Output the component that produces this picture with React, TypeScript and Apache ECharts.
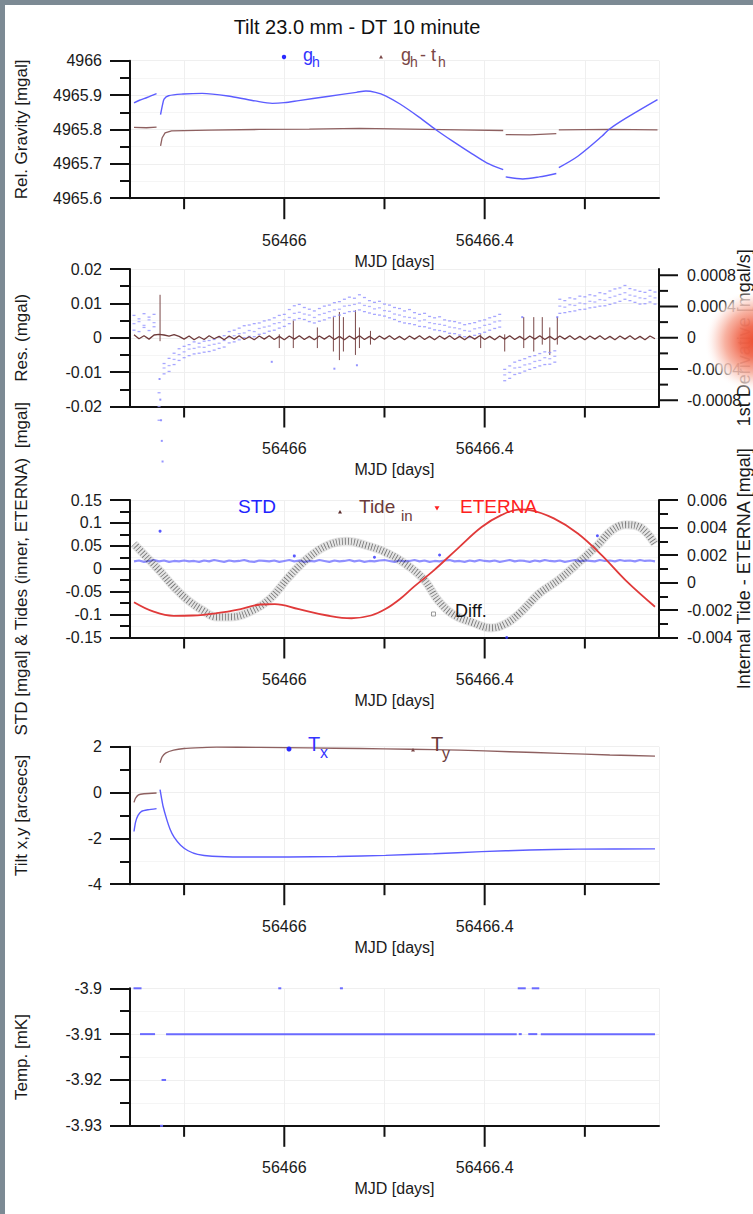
import React, { useEffect, useRef } from 'react';
import * as echarts from 'echarts';

const FONT = '"Liberation Sans", Arial, Helvetica, sans-serif';

// ---- axes / layout ----
const XMIN = 56465.692;
const XMAX = 56466.748;
const xTickValues = [56465.8, 56466.0, 56466.2, 56466.4, 56466.6];
const xTickMajor = [0, 1, 0, 1, 0];
const xLabelValues = [56466, 56466.4];
const panelTops = [60.7, 269, 500, 746.7, 988.3];
const PANEL_H = 137.5;
const rightTicksP2 = [-0.0008, -0.0006, -0.0004, -0.0002, 0, 0.0002, 0.0004, 0.0006, 0.0008];
const rightMajorP2 = [1, 0, 1, 0, 1, 0, 1, 0, 1];
const rightLabelsP2 = [-0.0008, -0.0004, 0, 0.0004, 0.0008];

// ---- panel 1: relative gravity ----
const gravity = [
  [56465.700, 4965.877], [56465.711, 4965.885], [56465.726, 4965.893], [56465.745, 4965.904], [56465.749, null],
  [56465.753, 4965.843], [56465.757, 4965.872], [56465.760, 4965.888], [56465.769, 4965.898], [56465.798, 4965.903],
  [56465.836, 4965.905], [56465.894, 4965.896], [56465.942, 4965.883], [56465.976, 4965.876], [56466.000, 4965.878],
  [56466.029, 4965.884], [56466.086, 4965.896], [56466.144, 4965.908], [56466.163, 4965.912], [56466.182, 4965.908],
  [56466.202, 4965.898], [56466.231, 4965.874], [56466.269, 4965.836], [56466.302, 4965.800], [56466.336, 4965.766],
  [56466.375, 4965.729], [56466.404, 4965.703], [56466.437, 4965.683], [56466.440, null],
  [56466.442, 4965.662], [56466.476, 4965.656], [56466.509, 4965.662], [56466.543, 4965.672], [56466.546, null],
  [56466.548, 4965.689], [56466.586, 4965.722], [56466.634, 4965.780], [56466.648, 4965.800], [56466.682, 4965.833],
  [56466.745, 4965.887],
];
const gravityMinusTide = [
  [56465.700, 4965.806], [56465.725, 4965.805], [56465.745, 4965.807], [56465.749, null],
  [56465.753, 4965.752], [56465.756, 4965.775], [56465.762, 4965.790], [56465.775, 4965.796], [56465.85, 4965.798],
  [56465.95, 4965.800], [56466.05, 4965.801], [56466.15, 4965.803], [56466.25, 4965.801], [56466.35, 4965.799],
  [56466.437, 4965.797], [56466.440, null], [56466.442, 4965.785], [56466.49, 4965.784], [56466.543, 4965.788],
  [56466.546, null], [56466.548, 4965.799], [56466.65, 4965.800], [56466.745, 4965.799],
];

// ---- sample times shared by dense series ----
const sampleTimes = [
  56465.70, 56465.71, 56465.72, 56465.73, 56465.74, 56465.75, 56465.76, 56465.77, 56465.78, 56465.79,
  56465.80, 56465.81, 56465.82, 56465.83, 56465.84, 56465.85, 56465.86, 56465.87, 56465.88, 56465.89,
  56465.90, 56465.91, 56465.92, 56465.93, 56465.94, 56465.95, 56465.96, 56465.97, 56465.98, 56465.99,
  56466.00, 56466.01, 56466.02, 56466.03, 56466.04, 56466.05, 56466.06, 56466.07, 56466.08, 56466.09,
  56466.10, 56466.11, 56466.12, 56466.13, 56466.14, 56466.15, 56466.16, 56466.17, 56466.18, 56466.19,
  56466.20, 56466.21, 56466.22, 56466.23, 56466.24, 56466.25, 56466.26, 56466.27, 56466.28, 56466.29,
  56466.30, 56466.31, 56466.32, 56466.33, 56466.34, 56466.35, 56466.36, 56466.37, 56466.38, 56466.39,
  56466.40, 56466.41, 56466.42, 56466.43, 56466.44, 56466.45, 56466.46, 56466.47, 56466.48, 56466.49,
  56466.50, 56466.51, 56466.52, 56466.53, 56466.54, 56466.55, 56466.56, 56466.57, 56466.58, 56466.59,
  56466.60, 56466.61, 56466.62, 56466.63, 56466.64, 56466.65, 56466.66, 56466.67, 56466.68, 56466.69,
  56466.70, 56466.71, 56466.72, 56466.73, 56466.74,
];

// ---- panel 2: residuals & 1st derivative ----
const residual = [
  0.0009, -0.0003, 0.0006, -0.0004, 0.0008, 0.0010, 0.0008, 0.0005, 0.0009, 0.0004,
  -0.0004, 0.0005, -0.0006, 0.0003, -0.0005, 0.0006, -0.0003, 0.0004, -0.0006, 0.0005,
  -0.0004, 0.0006, -0.0005, 0.0003, -0.0006, 0.0005, -0.0004, 0.0006, -0.0005, 0.0004,
  -0.0006, 0.0005, -0.0004, 0.0006, -0.0005, 0.0004, -0.0006, 0.0005, -0.0004, 0.0006,
  -0.0005, 0.0004, -0.0006, 0.0005, -0.0004, 0.0006, -0.0005, 0.0004, -0.0006, 0.0005,
  -0.0004, 0.0006, -0.0005, 0.0004, -0.0006, 0.0005, -0.0004, 0.0006, -0.0005, 0.0004,
  -0.0006, 0.0005, -0.0004, 0.0006, -0.0005, 0.0004, -0.0006, 0.0005, -0.0004, 0.0006,
  -0.0005, 0.0004, -0.0006, 0.0005, -0.0004, 0.0006, -0.0005, 0.0004, -0.0006, 0.0005,
  -0.0004, 0.0006, -0.0005, 0.0004, -0.0006, 0.0005, -0.0004, 0.0006, -0.0005, 0.0004,
  -0.0006, 0.0005, -0.0004, 0.0006, -0.0005, 0.0004, -0.0006, 0.0005, -0.0004, 0.0006,
  -0.0005, 0.0004, -0.0006, 0.0005, -0.0003,
];
// [time, low, high]
const residualSpikes = [
  [56465.752, -0.001, 0.0125], [56465.990, -0.003, 0.001], [56466.018, -0.003, 0.005],
  [56466.066, -0.003, 0.003], [56466.098, -0.004, 0.006], [56466.110, -0.0065, 0.0075],
  [56466.118, -0.004, 0.006], [56466.142, -0.005, 0.008], [56466.150, -0.003, 0.003],
  [56466.172, -0.002, 0.002], [56466.392, -0.003, 0.001], [56466.440, -0.004, 0.001],
  [56466.478, -0.003, 0.006], [56466.498, -0.004, 0.006], [56466.515, -0.002, 0.006],
  [56466.530, -0.005, 0.003], [56466.545, -0.002, 0.006],
];
const derivHigh = [
  0.0065, 0.0055, 0.007, 0.006, 0.0068, -0.016, -0.0075, -0.006, -0.0045, -0.0032,
  -0.0025, -0.002, -0.0012, -0.0016, -0.001, -0.0008, -0.0005, 0.0002, 0.0006, 0.0018,
  0.0022, 0.0028, 0.0035, 0.0037, 0.0041, 0.0043, 0.0049, 0.0052, 0.0058, 0.0065,
  0.0068, 0.0082, 0.0093, 0.0097, 0.0088, 0.0083, 0.0078, 0.0085, 0.0092, 0.0095,
  0.0102, 0.0105, 0.0112, 0.0118, 0.0115, 0.0125, 0.0117, 0.0108, 0.0103, 0.0106,
  0.0098, 0.0095, 0.0088, 0.0085, 0.0078, 0.0082, 0.0073, 0.0068, 0.0071, 0.0062,
  0.0058, 0.0061, 0.0052, 0.0049, 0.0047, 0.0043, 0.0038, 0.0041, 0.0044, 0.0049,
  0.0052, 0.0058, 0.0062, 0.0068, -0.0092, -0.0082, -0.0071, -0.0066, -0.0061, -0.0055,
  -0.0052, -0.0046, -0.0041, -0.0043, -0.0038, 0.0112, 0.0108, 0.0116, 0.0113, 0.0121,
  0.0119, 0.0125, 0.0122, 0.0131, 0.0128, 0.0136, 0.0142, 0.0145, 0.0152, 0.0143,
  0.0139, 0.0135, 0.0132, 0.0138, 0.0133,
];
const derivMid = [
  0.0041, 0.0047, 0.0036, 0.0052, 0.0044, -0.020, -0.0088, -0.0081, -0.0063, -0.0049,
  -0.0041, -0.0033, -0.0031, -0.0027, -0.0028, -0.0022, -0.0019, -0.0016, -0.0008, 0.0002,
  0.0006, 0.0012, 0.0014, 0.0021, 0.0018, 0.0027, 0.0031, 0.0034, 0.0041, 0.0044,
  0.0052, 0.0059, 0.0071, 0.0074, 0.0069, 0.0066, 0.0059, 0.0067, 0.0071, 0.0076,
  0.0081, 0.0083, 0.0092, 0.0094, 0.0097, 0.0101, 0.0094, 0.0091, 0.0084, 0.0087,
  0.0079, 0.0077, 0.0069, 0.0066, 0.0061, 0.0059, 0.0057, 0.0049, 0.0052, 0.0044,
  0.0041, 0.0039, 0.0036, 0.0031, 0.0029, 0.0026, 0.0021, 0.0019, 0.0026, 0.0029,
  0.0036, 0.0039, 0.0046, 0.0049, -0.0108, -0.0101, -0.0088, -0.0086, -0.0079, -0.0076,
  -0.0069, -0.0066, -0.0058, -0.0061, -0.0054, 0.0092, 0.0089, 0.0096, 0.0094, 0.0101,
  0.0099, 0.0106, 0.0104, 0.0111, 0.0109, 0.0117, 0.0121, 0.0126, 0.0131, 0.0124,
  0.0121, 0.0116, 0.0114, 0.0121, 0.0116,
];
const derivLow = [
  0.0022, 0.0018, 0.003, 0.0021, 0.0032, -0.024, -0.0105, -0.0098, -0.0078, -0.0066,
  -0.0058, -0.0052, -0.0047, -0.0045, -0.0042, -0.004, -0.0036, -0.0031, -0.0027, -0.0015,
  -0.0012, -0.0006, 0.0, 0.0004, 0.0003, 0.001, 0.0013, 0.0019, 0.0022, 0.0028,
  0.0033, 0.0041, 0.0052, 0.0056, 0.0053, 0.0047, 0.0043, 0.0048, 0.0052, 0.0058,
  0.0062, 0.0066, 0.0071, 0.0076, 0.0077, 0.0081, 0.0076, 0.0072, 0.0068, 0.0066,
  0.0063, 0.0058, 0.0053, 0.0047, 0.0043, 0.0041, 0.0038, 0.0033, 0.0032, 0.0028,
  0.0023, 0.0021, 0.0018, 0.0013, 0.0012, 0.0008, 0.0003, 0.0001, 0.0007, 0.0012,
  0.0016, 0.0022, 0.0027, 0.0031, -0.0125, -0.0118, -0.0107, -0.0103, -0.0097, -0.0092,
  -0.0087, -0.0082, -0.0078, -0.0077, -0.0071, 0.0071, 0.0073, 0.0076, 0.0078, 0.0082,
  0.0083, 0.0087, 0.0089, 0.0092, 0.0093, 0.0097, 0.0101, 0.0106, 0.0112, 0.0108,
  0.0103, 0.0098, 0.0099, 0.0104, 0.0098,
];
const derivOutliers = [
  [56465.751, -0.012], [56465.7525, -0.018], [56465.754, -0.024], [56465.7555, -0.030], [56465.757, -0.036],
  [56466.10, -0.009], [56466.145, -0.008], [56465.975, -0.007], [56466.475, 0.006], [56466.545, 0.006],
];

// ---- panel 3: STD, tides ----
const stdValues = [
  0.016, 0.018, 0.015, 0.017, 0.019, 0.016, 0.018, 0.015, 0.017, 0.016,
  0.018, 0.016, 0.017, 0.015, 0.018, 0.016, 0.019, 0.017, 0.015, 0.018,
  0.016, 0.017, 0.019, 0.016, 0.015, 0.018, 0.017, 0.016, 0.018, 0.015,
  0.017, 0.019, 0.016, 0.018, 0.015, 0.017, 0.016, 0.019, 0.017, 0.015,
  0.018, 0.016, 0.017, 0.019, 0.016, 0.018, 0.015, 0.017, 0.016, 0.018,
  0.019, 0.017, 0.015, 0.018, 0.016, 0.017, 0.019, 0.016, 0.018, 0.015,
  0.017, 0.016, 0.018, 0.019, 0.016, 0.017, 0.015, 0.018, 0.016, 0.019,
  0.017, 0.016, 0.018, 0.015, 0.017, 0.019, 0.016, 0.018, 0.017, 0.015,
  0.018, 0.016, 0.019, 0.017, 0.016, 0.018, 0.015, 0.017, 0.019, 0.016,
  0.018, 0.017, 0.016, 0.019, 0.017, 0.018, 0.016, 0.019, 0.017, 0.018,
  0.016, 0.019, 0.017, 0.018, 0.016,
];
const stdOutliers = [
  [56465.752, 0.082], [56466.02, 0.028], [56466.18, 0.025], [56466.31, 0.03], [56466.625, 0.072], [56466.444, -0.15],
];
const eterna = [
  [56465.700, -0.073], [56465.738, -0.093], [56465.779, -0.1026], [56465.817, -0.102], [56465.865, -0.097],
  [56465.913, -0.088], [56465.952, -0.078], [56465.981, -0.077], [56466.029, -0.088], [56466.086, -0.102],
  [56466.134, -0.108], [56466.173, -0.102], [56466.202, -0.088], [56466.231, -0.066], [56466.259, -0.039],
  [56466.298, -0.004], [56466.346, 0.044], [56466.394, 0.091], [56466.433, 0.117], [56466.471, 0.1295],
  [56466.490, 0.128], [56466.538, 0.11], [56466.586, 0.077], [56466.634, 0.029], [56466.682, -0.026],
  [56466.740, -0.083],
];
const tideDiff = [
  [56465.700, 0.0028], [56465.721, 0.0020], [56465.750, 0.0009], [56465.779, -0.0003], [56465.808, -0.0013],
  [56465.836, -0.0020], [56465.865, -0.0025], [56465.894, -0.0025], [56465.933, -0.0021], [56465.971, -0.0012],
  [56466.009, 0.0004], [56466.048, 0.0018], [56466.086, 0.0027], [56466.125, 0.0030], [56466.163, 0.0027],
  [56466.202, 0.0022], [56466.240, 0.0014], [56466.279, 0.0002], [56466.307, -0.0013], [56466.336, -0.0023],
  [56466.375, -0.0029], [56466.413, -0.0033], [56466.442, -0.0030], [56466.471, -0.0022], [56466.509, -0.0008],
  [56466.548, 0.0002], [56466.586, 0.0014], [56466.625, 0.0027], [56466.654, 0.0038], [56466.682, 0.0042],
  [56466.711, 0.0040], [56466.740, 0.0028],
];

// ---- panel 4: tilt ----
const tiltX = [
  [56465.700, -1.70], [56465.703, -1.30], [56465.708, -1.0], [56465.715, -0.82], [56465.728, -0.75],
  [56465.745, -0.70], [56465.749, null], [56465.752, 0.13], [56465.755, -0.25], [56465.758, -0.6],
  [56465.765, -1.15], [56465.772, -1.6], [56465.780, -1.95], [56465.793, -2.3], [56465.808, -2.54],
  [56465.827, -2.70], [56465.856, -2.78], [56465.913, -2.81], [56466.009, -2.81], [56466.105, -2.79],
  [56466.202, -2.74], [56466.298, -2.67], [56466.394, -2.58], [56466.49, -2.51], [56466.586, -2.47],
  [56466.740, -2.46],
];
const tiltY = [
  [56465.700, -0.43], [56465.703, -0.25], [56465.709, -0.10], [56465.72, -0.05], [56465.745, -0.02],
  [56465.749, null], [56465.752, 1.30], [56465.756, 1.55], [56465.763, 1.72], [56465.779, 1.85],
  [56465.80, 1.92], [56465.836, 1.96], [56465.865, 1.98], [56465.95, 1.97], [56466.05, 1.95],
  [56466.15, 1.92], [56466.25, 1.89], [56466.35, 1.85], [56466.45, 1.78], [56466.55, 1.71],
  [56466.65, 1.64], [56466.74, 1.59],
];

// ---- panel 5: temperature, [start, value, end] ----
const tempSegments = [
  [56465.699, -3.90, 56465.715], [56465.712, -3.91, 56465.742], [56465.755, -3.92, 56465.764],
  [56465.764, -3.91, 56466.464], [56466.468, -3.91, 56466.472], [56466.487, -3.91, 56466.505],
  [56466.512, -3.91, 56466.740], [56465.988, -3.90, 56465.988], [56466.111, -3.90, 56466.111],
  [56466.466, -3.90, 56466.482], [56466.494, -3.90, 56466.509], [56465.752, -3.93, 56465.752],
];

const pairs = (xs: number[], ys: number[]) => xs.map((x, i) => [x, ys[i]]);

function xFormatter(v: number) {
  return xLabelValues.some((l) => Math.abs(l - v) < 1e-6) ? String(Math.round(v * 10) / 10) : '';
}
function rightFormatter(v: number) {
  if (!rightLabelsP2.some((l) => Math.abs(l - v) < 1e-9)) return '';
  return Math.abs(v) < 1e-12 ? '0' : v.toFixed(4);
}
const plainFormatter = (digits: number) => (v: number) => String(Number(v.toFixed(digits)));

const AX = '#111';
const LBL = '#1a1a1a';

function buildOption(): any {
  const grids = panelTops.map((top) => ({
    left: 130, right: 94, top, height: PANEL_H, containLabel: false, outerBoundsMode: 'none',
  }));
  const xAxes = panelTops.map((_, i) => ({
    type: 'value', gridIndex: i, min: XMIN, max: XMAX, splitNumber: 5,
    axisLine: { onZero: false, lineStyle: { color: AX, width: 2 } },
    axisTick: { show: false },
    axisLabel: { margin: 34, fontSize: 16, color: LBL, fontFamily: FONT, formatter: xFormatter, showMinLabel: false, showMaxLabel: false },
    splitLine: { show: true, lineStyle: { color: '#efefef', width: 1 } },
    name: 'MJD [days]', nameLocation: 'middle', nameGap: 55,
    nameTextStyle: { fontSize: 16, color: LBL, fontFamily: FONT },
  }));
  const leftY = (grid: number, min: number, max: number, interval: number, name: string, digits: number) => ({
    type: 'value', gridIndex: grid, position: 'left', min, max, interval,
    axisLine: { show: true, onZero: false, lineStyle: { color: AX, width: 2 } },
    axisTick: { show: true, length: 20, lineStyle: { color: AX, width: 2 } },
    minorTick: { show: true, splitNumber: 2, length: 10, lineStyle: { color: AX, width: 2 } },
    axisLabel: { margin: 28, fontSize: 16, color: LBL, fontFamily: FONT, formatter: plainFormatter(digits) },
    splitLine: { show: true, lineStyle: { color: '#efefef' } },
    minorSplitLine: { show: true, lineStyle: { color: '#f5f5f5' } },
    name, nameLocation: 'middle', nameGap: 100, nameRotate: 90, nameMoveOverlap: false,
    nameTextStyle: { fontSize: 17, color: LBL, fontFamily: FONT },
  });
  const yAxes = [
    leftY(0, 4965.6, 4966, 0.1, 'Rel. Gravity [mgal]', 1),
    leftY(1, -0.02, 0.02, 0.01, 'Res. (mgal)', 2),
    {
      type: 'value', gridIndex: 1, position: 'right', min: -0.00088, max: 0.00088, splitNumber: 8,
      axisLine: { show: true, onZero: false, lineStyle: { color: AX, width: 2 } },
      axisTick: { show: false },
      axisLabel: { margin: 28, fontSize: 16, color: LBL, fontFamily: FONT, formatter: rightFormatter, showMinLabel: false, showMaxLabel: false },
      splitLine: { show: false },
      name: '1st Derivative [mgal/s]', nameLocation: 'middle', nameGap: 76, nameRotate: 90, nameMoveOverlap: false,
      nameTextStyle: { fontSize: 18, color: LBL, fontFamily: FONT },
    },
    leftY(2, -0.15, 0.15, 0.05, 'STD [mgal] & Tides (inner, ETERNA)  [mgal]', 2),
    {
      type: 'value', gridIndex: 2, position: 'right', min: -0.004, max: 0.006, interval: 0.002,
      axisLine: { show: true, onZero: false, lineStyle: { color: AX, width: 2 } },
      axisTick: { show: true, length: 19, lineStyle: { color: AX, width: 2 } },
      minorTick: { show: true, splitNumber: 2, length: 9, lineStyle: { color: AX, width: 2 } },
      axisLabel: { margin: 28, fontSize: 16, color: LBL, fontFamily: FONT, formatter: plainFormatter(3) },
      splitLine: { show: false },
      name: 'Internal Tide - ETERNA [mgal]', nameLocation: 'middle', nameGap: 76, nameRotate: 90, nameMoveOverlap: false,
      nameTextStyle: { fontSize: 18, color: LBL, fontFamily: FONT },
    },
    leftY(3, -4, 2, 2, 'Tilt x,y [arcsecs]', 0),
    leftY(4, -3.93, -3.9, 0.01, 'Temp. [mK]', 2),
  ];
  const leftYIndex = [0, 1, 3, 5, 6];
  const leftYMin = [4965.6, -0.02, -0.15, -4, -3.93];

  const series: any[] = [];
  const line = (x: number, y: number, data: any[], color: string, width: number, extra: any = {}) => ({
    type: 'line', xAxisIndex: x, yAxisIndex: y, data, showSymbol: false, symbol: 'none',
    connectNulls: false, lineStyle: { color, width }, itemStyle: { color }, silent: true, ...extra,
  });
  const dots = (data: any[], color: string, size: any) => ({
    type: 'scatter', xAxisIndex: 1, yAxisIndex: 1, data, symbol: 'rect', symbolSize: size,
    itemStyle: { color }, silent: true, clip: false,
  });

  // panel 1
  series.push(line(0, 0, gravityMinusTide, '#8e6060', 1.3));
  series.push(line(0, 0, gravity, '#5c5cff', 1.4, { smooth: 0.3 }));
  // panel 2
  series.push(dots(pairs(sampleTimes, derivHigh), '#9090ff', [3, 1.3]));
  series.push(dots(pairs(sampleTimes, derivMid), '#a0a0ff', [3, 1.3]));
  series.push(dots(pairs(sampleTimes, derivLow), '#9090ff', [3, 1.3]));
  series.push(dots(derivOutliers, '#7a7aff', [2, 2]));
  series.push(line(1, 1, pairs(sampleTimes, residual), '#6e3a3a', 1.3));
  series.push({
    type: 'custom', xAxisIndex: 1, yAxisIndex: 1, data: residualSpikes, silent: true, clip: false,
    renderItem: (_p: any, api: any) => {
      const a = api.coord([api.value(0), api.value(1)]);
      const b = api.coord([api.value(0), api.value(2)]);
      return { type: 'line', shape: { x1: a[0], y1: a[1], x2: b[0], y2: b[1] }, style: { stroke: '#7a4848', lineWidth: 1 } };
    },
  });
  series.push({
    type: 'custom', xAxisIndex: 1, yAxisIndex: 2, silent: true, clip: false,
    data: rightTicksP2.map((v, k) => [XMAX, v, rightMajorP2[k]]),
    renderItem: (_p: any, api: any) => {
      const p = api.coord([api.value(0), api.value(1)]);
      const len = api.value(2) ? 19 : 9;
      return { type: 'line', shape: { x1: p[0], y1: p[1], x2: p[0] + len, y2: p[1] }, style: { stroke: AX, lineWidth: 2 } };
    },
  });
  // panel 3
  series.push(line(2, 3, pairs(sampleTimes, stdValues), '#6a6aff', 2.2, { lineStyle: { color: '#6a6aff', width: 2.2, opacity: 0.75 } }));
  series.push({ type: 'scatter', xAxisIndex: 2, yAxisIndex: 3, data: stdOutliers, symbol: 'circle', symbolSize: 3, itemStyle: { color: '#3030ff' }, clip: false, silent: true });
  series.push(line(2, 4, tideDiff, 'rgba(0,0,0,0.1)', 9, { smooth: 0.4, lineStyle: { color: 'rgba(0,0,0,0.1)', width: 9 } }));
  series.push(line(2, 4, tideDiff, 'rgba(0,0,0,0.5)', 7, { smooth: 0.4, lineStyle: { color: 'rgba(0,0,0,0.5)', width: 7, type: [0.8, 2.2], cap: 'butt' } }));
  series.push(line(2, 3, eterna, '#e03a3a', 1.8, { smooth: 0.4 }));
  // panel 4
  series.push(line(3, 5, tiltY, '#8e6060', 1.4, { smooth: 0.2 }));
  series.push(line(3, 5, tiltX, '#5c5cff', 1.4, { smooth: 0.2 }));
  // panel 5
  series.push({
    type: 'custom', xAxisIndex: 4, yAxisIndex: 6, data: tempSegments, silent: true, clip: false,
    renderItem: (_p: any, api: any) => {
      const a = api.coord([api.value(0), api.value(1)]);
      const b = api.coord([api.value(2), api.value(1)]);
      const x2 = Math.max(b[0], a[0] + 3);
      return { type: 'line', shape: { x1: a[0], y1: a[1], x2, y2: a[1] }, style: { stroke: '#6a6aff', lineWidth: 2 } };
    },
  });
  // x ticks in every panel
  panelTops.forEach((_, i) => {
    series.push({
      type: 'custom', xAxisIndex: i, yAxisIndex: leftYIndex[i], silent: true, clip: false, z: 5,
      data: xTickValues.map((v, k) => [v, leftYMin[i], xTickMajor[k]]),
      renderItem: (_p: any, api: any) => {
        const p = api.coord([api.value(0), api.value(1)]);
        const len = api.value(2) ? 21 : 11;
        return { type: 'line', shape: { x1: p[0], y1: p[1], x2: p[0], y2: p[1] + len }, style: { stroke: AX, lineWidth: 2 } };
      },
    });
  });

  const txt = (text: string, x: number, y: number, size: number, fill: string, align = 'left') => ({
    type: 'text', x, y, z: 50, silent: true,
    style: { text, fill, font: `${size}px ${FONT}`, align, verticalAlign: 'middle', textAlign: align, textVerticalAlign: 'middle' },
  });
  const tri = (x: number, y: number, s: number, fill: string, down = false) => ({
    type: 'polygon', z: 50, silent: true,
    shape: { points: down ? [[x - s, y - s * 0.7], [x + s, y - s * 0.7], [x, y + s]] : [[x, y - s], [x - s, y + s * 0.7], [x + s, y + s * 0.7]] },
    style: { fill },
  });
  const BLUE = '#3434ff';
  const BROWN = '#7a4646';
  const graphics: any[] = [
    { type: 'rect', z: 200, silent: true, shape: { x: 0, y: 0, width: 753, height: 5 }, style: { fill: '#7c8a94' } },
    { type: 'rect', z: 200, silent: true, shape: { x: 0, y: 0, width: 5, height: 1214 }, style: { fill: '#7c8a94' } },
    txt('Tilt 23.0 mm - DT 10 minute', 357, 27, 20, '#111', 'center'),
    // panel 1 legend
    { type: 'circle', z: 50, silent: true, shape: { cx: 284, cy: 57, r: 2.2 }, style: { fill: '#2a2aff' } },
    txt('g', 303, 55, 18, BLUE), txt('h', 312, 62, 14, BLUE),
    tri(381, 57, 2, BROWN),
    txt('g', 401, 55, 18, BROWN), txt('h', 410, 62, 14, BROWN), txt('- t', 420, 55, 18, BROWN), txt('h', 438, 62, 14, BROWN),
    // panel 3 legend
    txt('STD', 257, 506.5, 19, '#2222ff', 'center'),
    tri(340, 512, 2, '#5a2a2a'),
    txt('Tide', 359, 506.5, 19, '#6b3a3a'), txt('in', 401, 515, 15, '#6b3a3a'),
    tri(437, 508, 2.5, '#ff2020', true),
    txt('ETERNA', 460, 506, 19, '#ff2020'),
    { type: 'rect', z: 50, silent: true, shape: { x: 431.5, y: 612, width: 4, height: 4 }, style: { fill: 'none', stroke: '#999', lineWidth: 1 } },
    txt('Diff.', 455, 611, 18, '#111'),
    // panel 4 legend
    { type: 'circle', z: 50, silent: true, shape: { cx: 289, cy: 749, r: 2.5 }, style: { fill: '#2828ff' } },
    txt('T', 308, 744, 20, BLUE), txt('x', 320, 752, 16, BLUE),
    tri(413, 750, 2, BROWN),
    txt('T', 431, 744, 20, '#6b3a3a'), txt('y', 442, 753, 16, '#6b3a3a'),
    // red blob at right edge
    {
      type: 'circle', z: 150, silent: true, shape: { cx: 756, cy: 341, r: 52 },
      style: {
        fill: {
          type: 'radial', x: 0.5, y: 0.5, r: 0.5,
          colorStops: [
            { offset: 0, color: 'rgba(236,76,46,1)' },
            { offset: 0.3, color: 'rgba(240,104,78,0.97)' },
            { offset: 0.6, color: 'rgba(247,170,152,0.9)' },
            { offset: 0.82, color: 'rgba(253,228,222,0.75)' },
            { offset: 1, color: 'rgba(255,255,255,0)' },
          ],
        },
      },
    },
  ];

  return {
    animation: false,
    backgroundColor: '#ffffff',
    textStyle: { fontFamily: FONT },
    grid: grids,
    xAxis: xAxes,
    yAxis: yAxes,
    series,
    graphic: { elements: graphics },
  };
}

export default function App() {
  const ref = useRef<HTMLDivElement>(null);
  useEffect(() => {
    document.body.style.margin = '0';
    const chart = echarts.init(ref.current!, undefined, { renderer: 'svg' });
    chart.setOption(buildOption());
    return () => chart.dispose();
  }, []);
  return <div ref={ref} style={{ width: 753, height: 1214, position: 'absolute', left: 0, top: 0, background: '#fff' }} />;
}
